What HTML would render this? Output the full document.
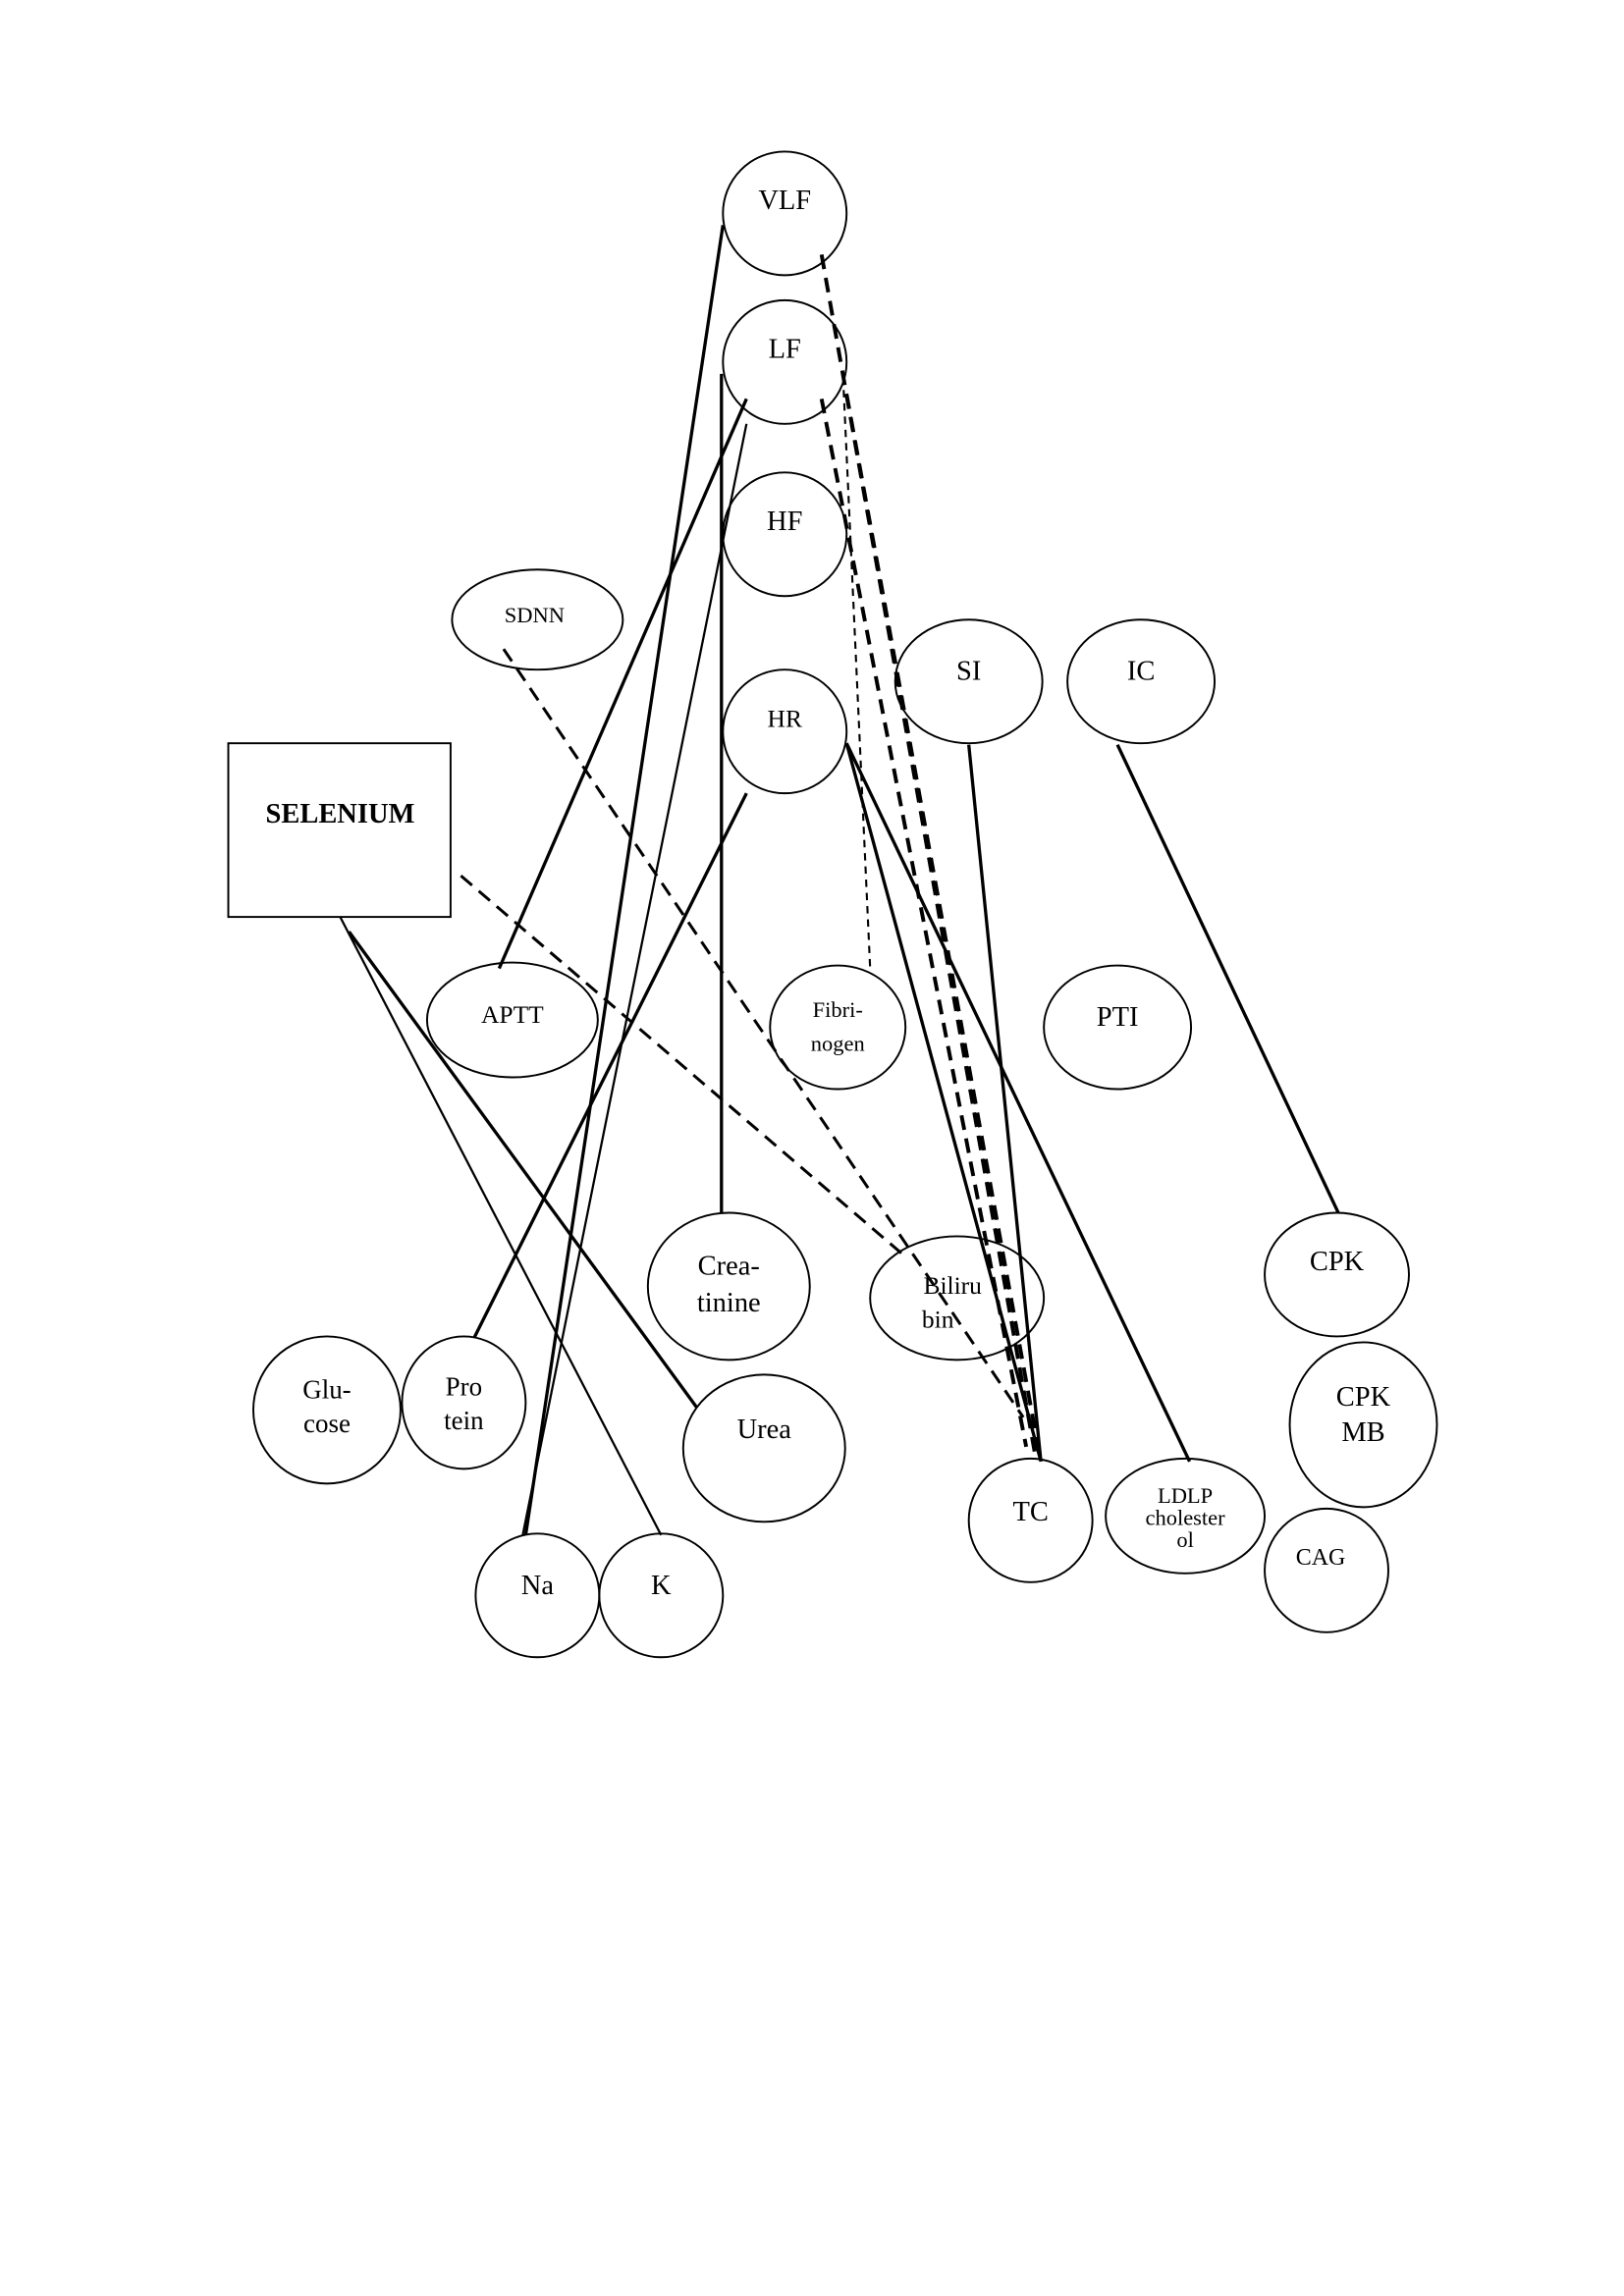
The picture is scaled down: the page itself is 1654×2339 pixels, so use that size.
<!DOCTYPE html>
<html><head><meta charset="utf-8"><style>
html,body{margin:0;padding:0;background:#fff;}
svg{display:block;}
text{font-family:"Liberation Serif",serif;fill:#000;text-anchor:middle;}
</style></head><body>
<svg width="1654" height="2339" viewBox="0 0 1103 1560" xmlns="http://www.w3.org/2000/svg">
<g transform="translate(-3,-2)">
<g fill="none" stroke="#000" stroke-width="1.3">
<ellipse cx="536" cy="147" rx="42" ry="42"/>
<ellipse cx="536" cy="248" rx="42" ry="42"/>
<ellipse cx="536" cy="365" rx="42" ry="42"/>
<ellipse cx="368" cy="423" rx="58" ry="34"/>
<ellipse cx="661" cy="465" rx="50" ry="42"/>
<ellipse cx="778" cy="465" rx="50" ry="42"/>
<ellipse cx="536" cy="499" rx="42" ry="42"/>
<rect x="158" y="507" width="151" height="118"/>
<ellipse cx="351" cy="695" rx="58" ry="39"/>
<ellipse cx="572" cy="700" rx="46" ry="42"/>
<ellipse cx="762" cy="700" rx="50" ry="42"/>
<ellipse cx="498" cy="876" rx="55" ry="50"/>
<ellipse cx="653" cy="884" rx="59" ry="42"/>
<ellipse cx="911" cy="868" rx="49" ry="42"/>
<ellipse cx="225" cy="960" rx="50" ry="50"/>
<ellipse cx="318" cy="955" rx="42" ry="45"/>
<ellipse cx="522" cy="986" rx="55" ry="50"/>
<ellipse cx="929" cy="970" rx="50" ry="56"/>
<ellipse cx="703" cy="1035" rx="42" ry="42"/>
<ellipse cx="808" cy="1032" rx="54" ry="39"/>
<ellipse cx="904" cy="1069" rx="42" ry="42"/>
<ellipse cx="368" cy="1086" rx="42" ry="42"/>
<ellipse cx="452" cy="1086" rx="42" ry="42"/>
</g>
<g stroke="#000" stroke-width="2.2" fill="none">
<line x1="494" y1="155" x2="360" y2="1045"/>
<line x1="510" y1="273" x2="342" y2="660"/>
<line x1="510" y1="290" x2="358" y2="1045" stroke-width="1.5"/>
<line x1="493" y1="256" x2="493" y2="826"/>
<line x1="510" y1="541" x2="325" y2="911"/>
<line x1="578" y1="507" x2="710" y2="995"/>
<line x1="578" y1="507" x2="811" y2="995"/>
<line x1="661" y1="508" x2="710" y2="995"/>
<line x1="762" y1="508" x2="912" y2="826"/>
<line x1="234" y1="625" x2="452" y2="1045" stroke-width="1.5"/>
<line x1="240" y1="635" x2="476" y2="958"/>
</g>
<g stroke="#000" stroke-width="2.6" fill="none" stroke-dasharray="10,6">
<line x1="561" y1="175" x2="706" y2="990"/>
<line x1="578" y1="270" x2="709" y2="990"/>
<line x1="561" y1="273" x2="700" y2="985"/>
<line x1="345" y1="443" x2="698" y2="965" stroke-width="2"/>
<line x1="316" y1="597" x2="617" y2="855" stroke-width="2"/>
</g>
<line x1="576" y1="267" x2="594" y2="660" stroke="#000" stroke-width="1.4" stroke-dasharray="5,4"/>
<g font-size="19">
<text x="536" y="144">VLF</text>
<text x="536" y="245">LF</text>
<text x="536" y="362">HF</text>
<text x="366" y="425" font-size="15">SDNN</text>
<text x="661" y="464">SI</text>
<text x="778" y="464">IC</text>
<text x="536" y="496" font-size="17">HR</text>
<text x="234" y="561" font-weight="bold" font-size="19">SELENIUM</text>
<text x="351" y="697" font-size="17">APTT</text>
<text x="572" y="693" font-size="15">Fibri-</text>
<text x="572" y="716" font-size="15">nogen</text>
<text x="762" y="699">PTI</text>
<text x="498" y="868">Crea-</text>
<text x="498" y="893">tinine</text>
<text x="650" y="881" font-size="17">Biliru</text>
<text x="640" y="904" font-size="17">bin</text>
<text x="911" y="865">CPK</text>
<text x="225" y="952" font-size="18">Glu-</text>
<text x="225" y="975" font-size="18">cose</text>
<text x="318" y="950" font-size="18">Pro</text>
<text x="318" y="973" font-size="18">tein</text>
<text x="522" y="979">Urea</text>
<text x="929" y="957">CPK</text>
<text x="929" y="981">MB</text>
<text x="703" y="1035">TC</text>
<text x="808" y="1023" font-size="15">LDLP</text>
<text x="808" y="1038" font-size="15">cholester</text>
<text x="808" y="1053" font-size="15">ol</text>
<text x="900" y="1065" font-size="16">CAG</text>
<text x="368" y="1085">Na</text>
<text x="452" y="1085">K</text>
</g>
</g>
</svg>
</body></html>
